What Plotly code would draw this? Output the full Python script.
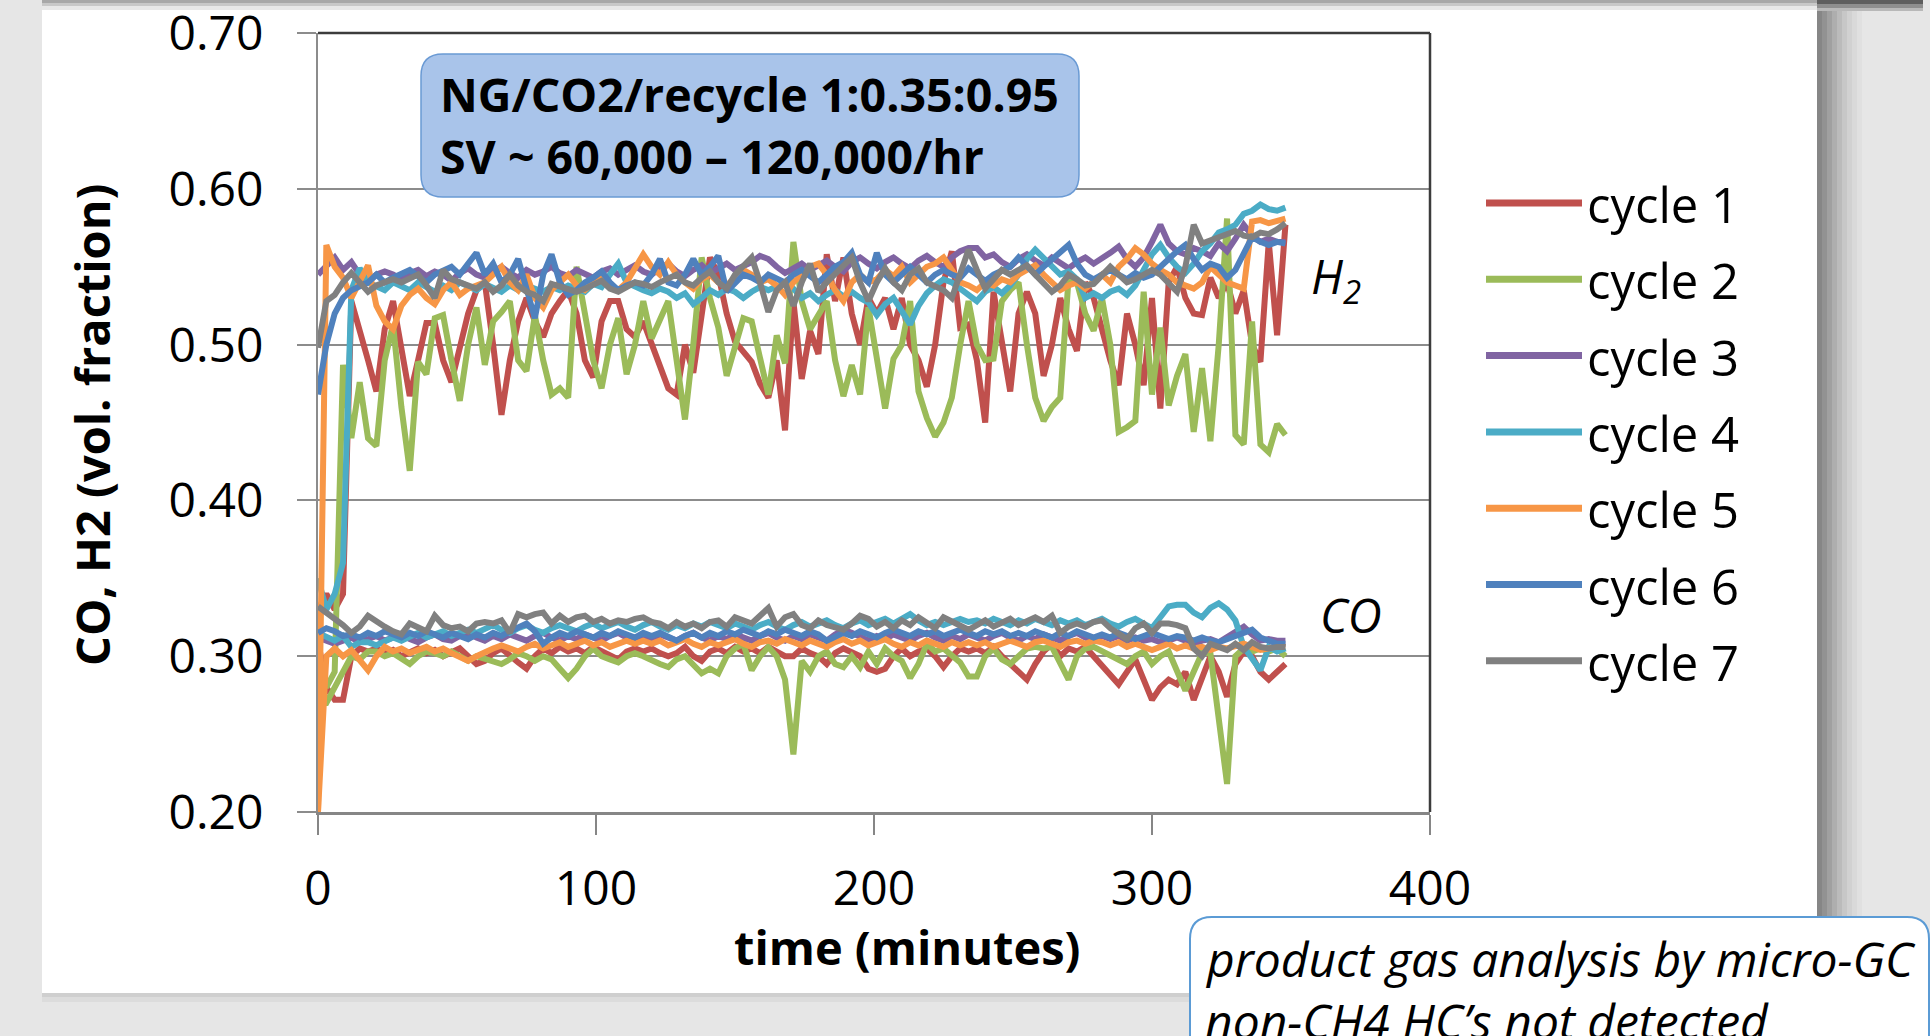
import plotly.graph_objects as go

TIME = [0, 3, 6, 9, 12, 15, 18, 21, 24, 27, 30, 33, 36, 39, 42, 45, 48, 51, 54, 57,
        60, 63, 66, 69, 72, 75, 78, 81, 84, 87, 90, 93, 96, 99, 102, 105, 108, 111, 114, 117,
        120, 123, 126, 129, 132, 135, 138, 141, 144, 147, 150, 153, 156, 159, 162, 165, 168, 171, 174, 177,
        180, 183, 186, 189, 192, 195, 198, 201, 204, 207, 210, 213, 216, 219, 222, 225, 228, 231, 234, 237,
        240, 243, 246, 249, 252, 255, 258, 261, 264, 267, 270, 273, 276, 279, 282, 285, 288, 291, 294, 297,
        300, 303, 306, 309, 312, 315, 318, 321, 324, 327, 330, 333, 336, 339, 342, 345, 348]

CYCLES = ["cycle 1", "cycle 2", "cycle 3", "cycle 4", "cycle 5", "cycle 6", "cycle 7"]
COLORS = ["#C0504D", "#9BBB59", "#8064A2", "#4BACC6", "#F79646", "#4F81BD", "#808080"]

H2_C1 = [0.33, 0.34, 0.33, 0.34, 0.528, 0.51, 0.49, 0.47, 0.51, 0.528,
         0.50, 0.467, 0.49, 0.514, 0.514, 0.49, 0.476, 0.50, 0.52, 0.535,
         0.54, 0.50, 0.455, 0.49, 0.515, 0.53, 0.515, 0.505, 0.52, 0.528,
         0.535, 0.52, 0.49, 0.479, 0.515, 0.528, 0.528, 0.51, 0.505, 0.515,
         0.50, 0.485, 0.472, 0.468, 0.50, 0.482, 0.52, 0.556, 0.545, 0.52,
         0.502, 0.495, 0.489, 0.475, 0.466, 0.49, 0.445, 0.528, 0.478, 0.509,
         0.494, 0.558, 0.528, 0.556, 0.52, 0.50, 0.53, 0.52, 0.53, 0.51,
         0.53, 0.50, 0.49, 0.473, 0.50, 0.54, 0.56, 0.511, 0.513, 0.49,
         0.45, 0.534, 0.50, 0.47, 0.52, 0.534, 0.52, 0.48, 0.50, 0.53,
         0.51, 0.496, 0.54, 0.53, 0.51, 0.49, 0.474, 0.52, 0.50, 0.474,
         0.53, 0.459, 0.54, 0.55, 0.53, 0.52, 0.519, 0.543, 0.53, 0.54,
         0.52, 0.535, 0.50, 0.489, 0.566, 0.506, 0.577]
H2_C2 = [0.29, 0.28, 0.29, 0.487, 0.44, 0.476, 0.44, 0.435, 0.49, 0.513,
         0.46, 0.419, 0.489, 0.481, 0.517, 0.519, 0.49, 0.464, 0.50, 0.524,
         0.487, 0.515, 0.521, 0.528, 0.49, 0.483, 0.519, 0.49, 0.468, 0.472,
         0.466, 0.55, 0.52, 0.49, 0.472, 0.50, 0.517, 0.481, 0.50, 0.528,
         0.504, 0.515, 0.528, 0.49, 0.452, 0.50, 0.556, 0.53, 0.511, 0.48,
         0.50, 0.517, 0.515, 0.49, 0.468, 0.506, 0.488, 0.566, 0.528, 0.51,
         0.52, 0.528, 0.49, 0.467, 0.487, 0.468, 0.524, 0.49, 0.459, 0.491,
         0.50, 0.528, 0.47, 0.453, 0.441, 0.45, 0.466, 0.50, 0.528, 0.50,
         0.49, 0.491, 0.528, 0.535, 0.54, 0.50, 0.466, 0.451, 0.46, 0.466,
         0.543, 0.54, 0.52, 0.509, 0.53, 0.50, 0.444, 0.447, 0.451, 0.534,
         0.468, 0.511, 0.461, 0.48, 0.494, 0.444, 0.485, 0.438, 0.50, 0.581,
         0.442, 0.436, 0.515, 0.436, 0.431, 0.449, 0.442]
H2_C3 = [0.545, 0.55, 0.556, 0.548, 0.553, 0.545, 0.54, 0.545, 0.547, 0.545,
         0.542, 0.546, 0.548, 0.544, 0.547, 0.545, 0.541, 0.546, 0.549, 0.545,
         0.543, 0.547, 0.55, 0.546, 0.543, 0.548, 0.545, 0.547, 0.55, 0.546,
         0.544, 0.548, 0.546, 0.543, 0.547, 0.549, 0.545, 0.548, 0.551, 0.547,
         0.545, 0.549, 0.552, 0.547, 0.544, 0.548, 0.551, 0.546, 0.549, 0.552,
         0.548, 0.55, 0.553, 0.557, 0.555, 0.55, 0.546, 0.549, 0.552, 0.548,
         0.551, 0.554, 0.55, 0.547, 0.553, 0.556, 0.552, 0.549, 0.553, 0.556,
         0.552, 0.549, 0.554, 0.557, 0.553, 0.55, 0.556, 0.56, 0.562, 0.562,
         0.556, 0.558, 0.553, 0.55, 0.555, 0.558, 0.554, 0.551, 0.556, 0.552,
         0.549, 0.553, 0.556, 0.552, 0.555, 0.559, 0.563, 0.555, 0.55, 0.556,
         0.566, 0.577, 0.565, 0.56, 0.558, 0.562, 0.56, 0.557, 0.565, 0.56,
         0.568, 0.577, 0.57, 0.566, 0.568, 0.566, 0.566]
H2_C4 = [0.35, 0.33, 0.34, 0.36, 0.535, 0.549, 0.54, 0.537, 0.535, 0.54,
         0.538, 0.535, 0.54, 0.537, 0.534, 0.538, 0.535, 0.54, 0.537, 0.535,
         0.539, 0.536, 0.534, 0.538, 0.535, 0.538, 0.536, 0.534, 0.537, 0.535,
         0.538, 0.536, 0.534, 0.539, 0.537, 0.545, 0.552, 0.54, 0.537, 0.535,
         0.533, 0.536, 0.534, 0.53, 0.533, 0.526, 0.53, 0.535, 0.532, 0.536,
         0.534, 0.53, 0.534, 0.537, 0.535, 0.538, 0.54, 0.536, 0.53, 0.533,
         0.528, 0.532, 0.535, 0.531, 0.534, 0.53, 0.527, 0.519, 0.526, 0.53,
         0.522, 0.513, 0.525, 0.533, 0.538, 0.542, 0.54, 0.536, 0.532, 0.528,
         0.534, 0.537, 0.533, 0.538, 0.545, 0.555, 0.561, 0.556, 0.55, 0.545,
         0.547, 0.542, 0.53, 0.533, 0.53, 0.534, 0.536, 0.532, 0.538, 0.548,
         0.558, 0.564, 0.556, 0.55, 0.546, 0.552, 0.56, 0.565, 0.572, 0.574,
         0.577, 0.584, 0.586, 0.59, 0.587, 0.586, 0.588]
H2_C5 = [0.20, 0.564, 0.55, 0.543, 0.53, 0.54, 0.551, 0.525, 0.515, 0.51,
         0.525, 0.532, 0.536, 0.53, 0.526, 0.535, 0.54, 0.532, 0.536, 0.538,
         0.54, 0.545, 0.55, 0.54, 0.535, 0.545, 0.53, 0.524, 0.535, 0.54,
         0.545, 0.538, 0.535, 0.54, 0.543, 0.538, 0.535, 0.54, 0.55, 0.558,
         0.55, 0.545, 0.553, 0.545, 0.54, 0.536, 0.542, 0.545, 0.54, 0.538,
         0.543, 0.548, 0.545, 0.54, 0.542, 0.538, 0.532, 0.54, 0.545, 0.55,
         0.552, 0.545, 0.535, 0.528, 0.54, 0.545, 0.54, 0.542, 0.548, 0.544,
         0.55, 0.54, 0.545, 0.55, 0.552, 0.556, 0.548, 0.54, 0.538, 0.535,
         0.54, 0.538, 0.542, 0.54, 0.545, 0.548, 0.551, 0.545, 0.54, 0.535,
         0.538, 0.54, 0.536, 0.54, 0.545, 0.54, 0.55, 0.555, 0.562, 0.558,
         0.552, 0.548, 0.545, 0.54, 0.538, 0.536, 0.54, 0.55, 0.545, 0.54,
         0.538, 0.536, 0.579, 0.58, 0.578, 0.58, 0.581]
H2_C6 = [0.468, 0.50, 0.52, 0.53, 0.535, 0.538, 0.54, 0.545, 0.54, 0.543,
         0.546, 0.548, 0.544, 0.54, 0.545, 0.548, 0.55, 0.545, 0.552, 0.559,
         0.545, 0.552, 0.54, 0.545, 0.555, 0.535, 0.517, 0.545, 0.558, 0.54,
         0.532, 0.535, 0.54, 0.543, 0.547, 0.54, 0.535, 0.538, 0.54, 0.538,
         0.545, 0.555, 0.54, 0.538, 0.545, 0.555, 0.545, 0.55, 0.557, 0.534,
         0.54, 0.545, 0.543, 0.54, 0.545, 0.543, 0.54, 0.545, 0.548, 0.544,
         0.54, 0.545, 0.55, 0.553, 0.559, 0.545, 0.54, 0.559, 0.545, 0.54,
         0.545, 0.55, 0.545, 0.54, 0.545, 0.548, 0.545, 0.543, 0.549, 0.545,
         0.541, 0.545, 0.548, 0.55, 0.556, 0.55, 0.545, 0.55, 0.555, 0.56,
         0.564, 0.552, 0.545, 0.542, 0.545, 0.548, 0.545, 0.542, 0.546, 0.543,
         0.545, 0.55, 0.556, 0.56, 0.564, 0.555, 0.548, 0.552, 0.55, 0.543,
         0.548, 0.558, 0.569, 0.566, 0.564, 0.566, 0.565]
H2_C7 = [0.498, 0.528, 0.532, 0.54, 0.546, 0.54, 0.534, 0.538, 0.54, 0.542,
         0.54, 0.543, 0.545, 0.538, 0.53, 0.548, 0.542, 0.54, 0.538, 0.536,
         0.54, 0.534, 0.538, 0.545, 0.538, 0.534, 0.532, 0.528, 0.539, 0.537,
         0.535, 0.534, 0.536, 0.538, 0.541, 0.536, 0.534, 0.537, 0.54, 0.539,
         0.537, 0.54, 0.543, 0.545, 0.54, 0.538, 0.543, 0.547, 0.54, 0.536,
         0.545, 0.55, 0.556, 0.54, 0.521, 0.535, 0.54, 0.525, 0.54, 0.552,
         0.534, 0.54, 0.545, 0.55, 0.556, 0.54, 0.528, 0.54, 0.549, 0.54,
         0.535, 0.545, 0.549, 0.54, 0.538, 0.535, 0.53, 0.545, 0.561, 0.548,
         0.536, 0.542, 0.548, 0.545, 0.548, 0.551, 0.545, 0.54, 0.534, 0.538,
         0.545, 0.542, 0.538, 0.539, 0.545, 0.55, 0.545, 0.54, 0.542, 0.545,
         0.548, 0.545, 0.54, 0.534, 0.55, 0.577, 0.565, 0.567, 0.569, 0.571,
         0.573, 0.57, 0.569, 0.572, 0.571, 0.574, 0.578]

CO_C1 = [0.31, 0.28, 0.272, 0.272, 0.30, 0.305, 0.303, 0.305, 0.302, 0.304,
         0.30, 0.303, 0.305, 0.302, 0.304, 0.30, 0.303, 0.305, 0.30, 0.295,
         0.297, 0.302, 0.305, 0.30, 0.296, 0.292, 0.30, 0.305, 0.302, 0.306,
         0.303, 0.305, 0.302, 0.306, 0.303, 0.30, 0.298, 0.303, 0.305, 0.303,
         0.305, 0.302, 0.30, 0.302, 0.306, 0.30, 0.297, 0.303, 0.305, 0.302,
         0.306, 0.303, 0.305, 0.302, 0.306, 0.303, 0.30, 0.30, 0.305, 0.302,
         0.30, 0.295, 0.302, 0.305, 0.303, 0.30, 0.292, 0.29, 0.292, 0.30,
         0.305, 0.30, 0.303, 0.305, 0.30, 0.293, 0.30, 0.305, 0.303, 0.305,
         0.302, 0.306, 0.30, 0.295, 0.29, 0.285, 0.295, 0.303, 0.308, 0.30,
         0.305, 0.303, 0.306, 0.30, 0.295, 0.288, 0.282, 0.29, 0.298, 0.285,
         0.272, 0.28, 0.285, 0.282, 0.29, 0.272, 0.285, 0.30, 0.29, 0.274,
         0.295, 0.303, 0.30, 0.29, 0.285, 0.29, 0.295]
CO_C2 = [0.27, 0.27, 0.28, 0.291, 0.30, 0.298, 0.303, 0.303, 0.30, 0.302,
         0.298, 0.295, 0.30, 0.303, 0.302, 0.30, 0.303, 0.30, 0.297, 0.30,
         0.298, 0.297, 0.295, 0.298, 0.302, 0.30, 0.297, 0.30, 0.298, 0.292,
         0.286, 0.292, 0.30, 0.305, 0.30, 0.298, 0.296, 0.30, 0.302, 0.30,
         0.297, 0.295, 0.293, 0.298, 0.30, 0.295, 0.289, 0.292, 0.289, 0.30,
         0.305, 0.308, 0.291, 0.30, 0.306, 0.30, 0.285, 0.237, 0.297, 0.29,
         0.30, 0.303, 0.295, 0.293, 0.30, 0.293, 0.303, 0.295, 0.305, 0.30,
         0.297, 0.286, 0.295, 0.308, 0.303, 0.305, 0.30, 0.296, 0.287, 0.287,
         0.30, 0.305, 0.298, 0.295, 0.30, 0.305, 0.306, 0.305, 0.306, 0.295,
         0.285, 0.30, 0.305, 0.306, 0.303, 0.30, 0.297, 0.295, 0.30, 0.303,
         0.295, 0.30, 0.303, 0.29, 0.278, 0.29, 0.302, 0.302, 0.26, 0.218,
         0.30, 0.305, 0.303, 0.305, 0.303, 0.305, 0.30]
CO_C3 = [0.312, 0.31, 0.308, 0.31, 0.312, 0.309, 0.311, 0.313, 0.31, 0.312,
         0.314, 0.311, 0.309, 0.312, 0.314, 0.311, 0.31, 0.313, 0.315, 0.312,
         0.31, 0.313, 0.311, 0.314, 0.312, 0.31, 0.313, 0.315, 0.312, 0.31,
         0.313, 0.311, 0.314, 0.312, 0.31, 0.313, 0.315, 0.312, 0.31, 0.313,
         0.311, 0.314, 0.312, 0.31, 0.313, 0.315, 0.312, 0.31, 0.313, 0.311,
         0.314, 0.312, 0.31, 0.313, 0.315, 0.312, 0.31, 0.313, 0.311, 0.314,
         0.312, 0.31, 0.314, 0.317, 0.315, 0.312, 0.31, 0.313, 0.311, 0.314,
         0.312, 0.31, 0.313, 0.315, 0.312, 0.31, 0.313, 0.311, 0.314, 0.312,
         0.31, 0.313, 0.315, 0.312, 0.31, 0.313, 0.311, 0.314, 0.312, 0.31,
         0.313, 0.315, 0.312, 0.31, 0.313, 0.311, 0.313, 0.31, 0.312, 0.31,
         0.311, 0.309, 0.31, 0.312, 0.31, 0.308, 0.31, 0.311, 0.309, 0.312,
         0.315, 0.319, 0.314, 0.31, 0.311, 0.31, 0.31]
CO_C4 = [0.315, 0.312, 0.31, 0.313, 0.306, 0.309, 0.309, 0.307, 0.31, 0.312,
         0.31, 0.313, 0.315, 0.312, 0.314, 0.316, 0.313, 0.315, 0.317, 0.315,
         0.318, 0.32, 0.317, 0.315, 0.318, 0.32, 0.317, 0.315, 0.318, 0.32,
         0.318, 0.316, 0.319, 0.321, 0.318, 0.32, 0.322, 0.319, 0.317, 0.32,
         0.322, 0.319, 0.317, 0.32, 0.318, 0.321, 0.319, 0.322, 0.32, 0.318,
         0.321, 0.319, 0.317, 0.32, 0.322, 0.319, 0.317, 0.32, 0.322, 0.319,
         0.321, 0.323, 0.32, 0.318, 0.321, 0.323, 0.32, 0.322, 0.324, 0.321,
         0.324, 0.327, 0.323, 0.32, 0.322, 0.32, 0.322, 0.324, 0.322, 0.323,
         0.321, 0.324, 0.322, 0.32, 0.323, 0.321, 0.324, 0.322, 0.32, 0.323,
         0.321, 0.323, 0.32, 0.322, 0.324, 0.321, 0.319, 0.322, 0.324, 0.321,
         0.318, 0.325, 0.332, 0.333, 0.333, 0.328, 0.325, 0.331, 0.334, 0.33,
         0.323, 0.306, 0.298, 0.291, 0.306, 0.303, 0.305]
CO_C5 = [0.20, 0.30, 0.305, 0.30, 0.304, 0.298, 0.291, 0.30, 0.306, 0.303,
         0.305, 0.302, 0.304, 0.306, 0.303, 0.305, 0.302, 0.30, 0.297, 0.30,
         0.303, 0.305, 0.307, 0.305, 0.303, 0.306, 0.308, 0.305, 0.307, 0.309,
         0.306, 0.308, 0.31, 0.307, 0.309, 0.306, 0.308, 0.31, 0.308, 0.31,
         0.308, 0.31, 0.307, 0.309, 0.311, 0.308, 0.306, 0.309, 0.307, 0.309,
         0.311, 0.308, 0.306, 0.309, 0.31, 0.308, 0.311, 0.309, 0.307, 0.31,
         0.308, 0.306, 0.309, 0.311, 0.308, 0.31, 0.307, 0.309, 0.311, 0.308,
         0.306, 0.309, 0.307, 0.31, 0.308, 0.306, 0.309, 0.307, 0.309, 0.307,
         0.309, 0.306, 0.308, 0.31, 0.308, 0.306, 0.309, 0.31, 0.308, 0.306,
         0.309, 0.31, 0.308, 0.31, 0.309, 0.307, 0.309, 0.306, 0.308, 0.306,
         0.304, 0.306, 0.308, 0.305, 0.307, 0.305, 0.306, 0.304, 0.306, 0.305,
         0.307, 0.308, 0.306, 0.304, 0.305, 0.307, 0.306]
CO_C6 = [0.315, 0.318, 0.316, 0.313, 0.314, 0.312, 0.315, 0.313, 0.316, 0.314,
         0.312, 0.315, 0.313, 0.316, 0.314, 0.312, 0.315, 0.313, 0.311, 0.314,
         0.312, 0.315, 0.313, 0.316, 0.318, 0.321, 0.316, 0.308, 0.312, 0.315,
         0.313, 0.316, 0.314, 0.312, 0.315, 0.313, 0.316, 0.314, 0.312, 0.315,
         0.313, 0.315, 0.312, 0.31, 0.313, 0.315, 0.312, 0.315, 0.313, 0.316,
         0.314, 0.317, 0.315, 0.313, 0.316, 0.314, 0.317, 0.315, 0.313, 0.316,
         0.314, 0.31, 0.312, 0.315, 0.313, 0.316, 0.314, 0.312, 0.315, 0.317,
         0.315, 0.313, 0.316, 0.314, 0.316, 0.313, 0.315, 0.317, 0.315, 0.313,
         0.316, 0.314, 0.316, 0.313, 0.315, 0.313, 0.316, 0.314, 0.312, 0.315,
         0.313, 0.316, 0.314, 0.312, 0.314, 0.312, 0.315, 0.313, 0.311, 0.313,
         0.315, 0.313, 0.311, 0.313, 0.312, 0.31, 0.312, 0.31, 0.309, 0.311,
         0.313, 0.316, 0.317, 0.312, 0.31, 0.308, 0.308]
CO_C7 = [0.332, 0.328, 0.325, 0.32, 0.315, 0.319, 0.326, 0.322, 0.319, 0.316,
         0.314, 0.321, 0.318, 0.316, 0.326, 0.32, 0.318, 0.319, 0.316, 0.321,
         0.322, 0.321, 0.323, 0.315, 0.327, 0.325, 0.327, 0.328, 0.321, 0.326,
         0.322, 0.325, 0.326, 0.322, 0.324, 0.321, 0.323, 0.322, 0.324, 0.325,
         0.322, 0.321, 0.318, 0.322, 0.319, 0.321, 0.318, 0.322, 0.323, 0.319,
         0.325, 0.323, 0.321, 0.326, 0.331, 0.319, 0.325, 0.327, 0.32, 0.318,
         0.323, 0.32, 0.318, 0.317, 0.321, 0.326, 0.324, 0.319, 0.322, 0.318,
         0.323, 0.32, 0.325, 0.322, 0.318, 0.325, 0.322, 0.319, 0.317, 0.32,
         0.323, 0.319, 0.322, 0.324, 0.32, 0.323, 0.325, 0.322, 0.326, 0.315,
         0.319, 0.321, 0.319, 0.322, 0.323, 0.318, 0.315, 0.311, 0.318, 0.321,
         0.315, 0.321, 0.321, 0.32, 0.318, 0.305, 0.30, 0.308, 0.306, 0.304,
         0.308, 0.304, 0.309, 0.306, 0.305, 0.306, 0.306]

H2_SERIES = [H2_C1, H2_C2, H2_C3, H2_C4, H2_C5, H2_C6, H2_C7]
CO_SERIES = [CO_C1, CO_C2, CO_C3, CO_C4, CO_C5, CO_C6, CO_C7]

X_TICKS = [0, 100, 200, 300, 400]
Y_TICKS = [0.20, 0.30, 0.40, 0.50, 0.60, 0.70]
Y_TICK_TEXT = ["0.20", "0.30", "0.40", "0.50", "0.60", "0.70"]

# ---- page geometry (pixels) ----
WIDTH, HEIGHT = 1930, 1036
PL, PR, PT, PB = 318, 1430, 33, 812          # plot area edges
PW, PH = PR - PL, PB - PT
FONT = "Open Sans"


def fx(x):
    return (x - PL) / PW


def fy(y):
    return (PB - y) / PH


def rounded_path(x0, y0, x1, y1, r):
    return (f"M {fx(x0 + r)},{fy(y0)} L {fx(x1 - r)},{fy(y0)} "
            f"Q {fx(x1)},{fy(y0)} {fx(x1)},{fy(y0 + r)} L {fx(x1)},{fy(y1 - r)} "
            f"Q {fx(x1)},{fy(y1)} {fx(x1 - r)},{fy(y1)} L {fx(x0 + r)},{fy(y1)} "
            f"Q {fx(x0)},{fy(y1)} {fx(x0)},{fy(y1 - r)} L {fx(x0)},{fy(y0 + r)} "
            f"Q {fx(x0)},{fy(y0)} {fx(x0 + r)},{fy(y0)} Z")


def band(x0, x1, y0, y1, color):
    return dict(type="rect", xref="paper", yref="paper", layer="below",
                x0=fx(x0), x1=fx(x1), y0=fy(y0), y1=fy(y1),
                fillcolor=color, line=dict(width=0))


fig = go.Figure()

for i in range(len(CYCLES)):
    fig.add_trace(go.Scatter(x=TIME, y=H2_SERIES[i], mode="lines", name=CYCLES[i] + " H2",
                             line=dict(color=COLORS[i], width=6), showlegend=False))
    fig.add_trace(go.Scatter(x=TIME, y=CO_SERIES[i], mode="lines", name=CYCLES[i] + " CO",
                             line=dict(color=COLORS[i], width=6), showlegend=False))

shapes = []
# background: gray page, white slide panel and shadows
shapes.append(band(42, 1817, 10, 993, "white"))
for (a, b, c) in [(0, 3, "#A8A8A8"), (3, 6, "#C8C8C8"), (6, 10, "#E8E8E8")]:
    shapes.append(band(42, 1817, a, b, c))
shadow = ["#868686", "#929292", "#A0A0A0", "#AEAEAE", "#BBBBBB", "#C7C7C7",
          "#D1D1D1", "#D9D9D9", "#E0E0E0"]
for k, c in enumerate(shadow):
    shapes.append(band(1817 + 5 * k, 1822 + 5 * k, 0, HEIGHT, c))
for (a, b, c) in [(0, 4, "#5E5E5E"), (4, 8, "#8E8E8E"), (8, 11, "#B8B8B8")]:
    shapes.append(band(1817, 1923, a, b, c))
for (a, b, c) in [(993, 997, "#CFCFCF"), (997, 1002, "#DCDCDC")]:
    shapes.append(band(42, 1817, a, b, c))

# top and right frame of the plot area
shapes.append(dict(type="line", xref="paper", yref="paper", x0=0, x1=1, y0=1, y1=1,
                   line=dict(color="#3C3C3C", width=2.5)))
shapes.append(dict(type="line", xref="paper", yref="paper", x0=1, x1=1, y0=0, y1=1,
                   line=dict(color="#3C3C3C", width=2.5)))

# condition box
shapes.append(dict(type="path", xref="paper", yref="paper", layer="above",
                   path=rounded_path(421, 54, 1079, 197, 22),
                   fillcolor="#A9C4EA", line=dict(color="#6A9AD4", width=1.5)))
# note box bottom-right
shapes.append(dict(type="path", xref="paper", yref="paper", layer="above",
                   path=rounded_path(1190, 917, 1929, 1080, 22),
                   fillcolor="white", line=dict(color="#5B9BD5", width=2)))

# manual legend
LEG_X0, LEG_X1, LEG_Y0, LEG_DY = 1486, 1582, 203, 76.3
annotations = []
for i in range(len(CYCLES)):
    yy = LEG_Y0 + LEG_DY * i
    shapes.append(dict(type="line", xref="paper", yref="paper",
                       x0=fx(LEG_X0), x1=fx(LEG_X1), y0=fy(yy), y1=fy(yy),
                       line=dict(color=COLORS[i], width=7)))
    annotations.append(dict(xref="paper", yref="paper", x=fx(1585), y=fy(yy + 1),
                            xanchor="left", yanchor="middle", showarrow=False,
                            text=CYCLES[i], font=dict(family=FONT, size=49, color="black")))

annotations += [
    dict(xref="paper", yref="paper", x=fx(438), y=fy(94), xanchor="left", yanchor="middle",
         showarrow=False, text="NG/CO2/recycle 1:0.35:0.95",
         font=dict(family=FONT, size=46.5, color="black", weight=700)),
    dict(xref="paper", yref="paper", x=fx(438), y=fy(156), xanchor="left", yanchor="middle",
         showarrow=False, text="SV ~ 60,000 \u2013 120,000/hr",
         font=dict(family=FONT, size=46.5, color="black", weight=700)),
    dict(xref="paper", yref="paper", x=fx(1309), y=fy(279), xanchor="left", yanchor="middle",
         showarrow=False, text="<i>H<sub>2</sub></i>",
         font=dict(family=FONT, size=47, color="black")),
    dict(xref="paper", yref="paper", x=fx(1318), y=fy(615), xanchor="left", yanchor="middle",
         showarrow=False, text="<i>CO</i>",
         font=dict(family=FONT, size=47, color="black")),
    dict(xref="paper", yref="paper", x=fx(907), y=fy(947), xanchor="center", yanchor="middle",
         showarrow=False, text="time (minutes)",
         font=dict(family=FONT, size=47, color="black", weight=700)),
    dict(xref="paper", yref="paper", x=fx(92), y=fy(425), xanchor="center", yanchor="middle",
         showarrow=False, text="CO, H2 (vol. fraction)", textangle=-90,
         font=dict(family=FONT, size=47, color="black", weight=700)),
    dict(xref="paper", yref="paper", x=fx(1203), y=fy(958), xanchor="left", yanchor="middle",
         showarrow=False, text="<i>product gas analysis by micro-GC</i>",
         font=dict(family=FONT, size=48, color="black")),
    dict(xref="paper", yref="paper", x=fx(1203), y=fy(1020), xanchor="left", yanchor="middle",
         showarrow=False, text="<i>non-CH4 HC\u2019s not detected</i>",
         font=dict(family=FONT, size=48, color="black")),
]

fig.update_layout(
    width=WIDTH, height=HEIGHT, autosize=False,
    margin=dict(l=PL, r=WIDTH - PR, t=PT, b=HEIGHT - PB, pad=0),
    paper_bgcolor="#E6E6E6", plot_bgcolor="white",
    showlegend=False,
    shapes=shapes, annotations=annotations,
    xaxis=dict(range=[0, 400], tickvals=X_TICKS, showgrid=False, zeroline=False,
               showline=True, linecolor="#868686", linewidth=3,
               ticks="outside", ticklen=20, tickwidth=2, tickcolor="#868686",
               ticklabelstandoff=12, ticklabeloverflow="allow",
               tickfont=dict(family=FONT, size=48, color="black"), automargin=False),
    yaxis=dict(range=[0.2, 0.7001], tickvals=Y_TICKS, ticktext=Y_TICK_TEXT, showgrid=True,
               gridcolor="#8C8C8C", gridwidth=2, zeroline=False,
               showline=True, linecolor="#8C8C8C", linewidth=2,
               ticks="outside", ticklen=19, tickwidth=2, tickcolor="#8C8C8C",
               ticklabelstandoff=24, ticklabeloverflow="allow",
               tickfont=dict(family=FONT, size=48, color="black"), automargin=False),
)

fig.write_html("out.html")
